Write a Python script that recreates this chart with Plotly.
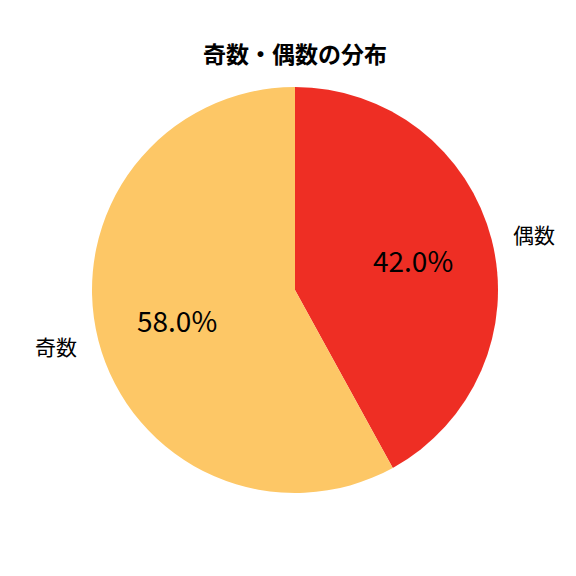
import math

import plotly.graph_objects as go

# データ
labels = ["偶数", "奇数"]
values = [42.0, 58.0]
colors = ["#EE2E24", "#FDC766"]
title = "奇数・偶数の分布"

W, H = 576, 576
off = 8  # ページ余白分の補正
cx, cy, r = 295 - off, 290 - off, 203  # 円の中心と半径 (px)
FONT = "Noto Sans CJK JP"

fig = go.Figure()
fig.add_trace(go.Pie(
    labels=labels, values=values, sort=False, direction="clockwise", rotation=0,
    marker=dict(colors=colors, line=dict(width=0)),
    textinfo="none", hoverinfo="label+percent", showlegend=False,
    domain=dict(x=[(cx - r) / W, (cx + r) / W], y=[1 - (cy + r) / H, 1 - (cy - r) / H]),
))

# ラベルとパーセント (matplotlib風: labeldistance=1.1, pctdistance=0.6)
total = sum(values)
start = 90.0
for lab, v in zip(labels, values):
    sweep = v / total * 360
    mid = math.radians(start - sweep / 2)
    start -= sweep
    ux, uy = math.cos(mid), math.sin(mid)
    fig.add_annotation(
        x=(cx + 1.1 * r * ux) / W, y=1 - (cy - 1.1 * r * uy) / H, xref="paper", yref="paper",
        text=lab, showarrow=False, xanchor="left" if ux > 0 else "right", yanchor="middle",
        font=dict(family=FONT, size=21, color="black"),
    )
    fig.add_annotation(
        x=(cx + 0.6 * r * ux) / W, y=1 - (cy - 0.6 * r * uy) / H, xref="paper", yref="paper",
        text=f"{v / total * 100:.1f}%", showarrow=False, xanchor="center", yanchor="middle",
        font=dict(family=FONT, size=28, color="black"),
    )

fig.update_layout(
    width=W, height=H, margin=dict(l=0, r=0, t=0, b=0),
    paper_bgcolor="white", plot_bgcolor="white",
    title=dict(text=f"<b>{title}</b>", x=cx / W, xanchor="center", y=1 - (55 - off) / H, yanchor="middle",
               font=dict(family=FONT, size=23, color="black")),
)

fig.write_html("out.html")
